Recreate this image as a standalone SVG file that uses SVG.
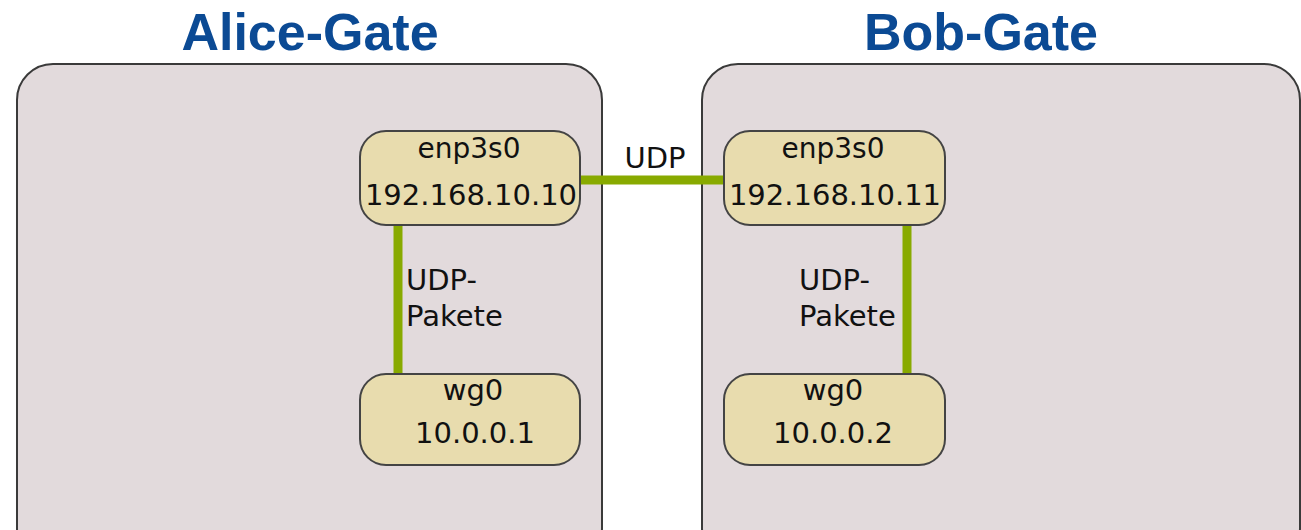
<svg xmlns="http://www.w3.org/2000/svg" width="1301" height="530" viewBox="0 0 1301 530">
<style>
.host{fill:#e2dadc;stroke:#3a3a3a;stroke-width:2}
.title{font-family:"Liberation Sans",Arial,sans-serif;font-weight:bold;font-size:52px;fill:#0b4a94;text-anchor:middle}
.node{fill:#e8dcae;stroke:#444;stroke-width:2}
.t{font-family:"DejaVu Sans",sans-serif;font-size:29px;fill:#111}
.s{font-size:28px}
.c{text-anchor:middle}
.wire{stroke:#88aa00;stroke-width:9;fill:none}
</style>
<rect width="1301" height="530" fill="#fff"/>
<g id="alice-gate">
<rect class="host" x="17" y="64" width="585" height="500" rx="36"/>
<text class="title" x="310" y="50">Alice-Gate</text>
</g>
<g id="bob-gate">
<rect class="host" x="702" y="64" width="598" height="500" rx="36"/>
<text class="title" x="981" y="50">Bob-Gate</text>
</g>
<g id="connectors">
<line class="wire" x1="580" y1="180" x2="724" y2="180"/>
<line class="wire" x1="398" y1="225" x2="398" y2="374"/>
<line class="wire" x1="907" y1="225" x2="907" y2="374"/>
<text class="t c" x="655" y="168">UDP</text>
<text class="t" x="406" y="290">UDP-</text>
<text class="t" x="406" y="326">Pakete</text>
<text class="t" x="799" y="290">UDP-</text>
<text class="t" x="799" y="326">Pakete</text>
</g>
<g id="alice-enp3s0">
<rect class="node" x="360" y="131" width="220" height="94" rx="26"/>
<text class="t s c" x="469" y="158">enp3s0</text>
<text class="t c" x="471" y="205">192.168.10.10</text>
</g>
<g id="bob-enp3s0">
<rect class="node" x="724" y="131" width="221" height="94" rx="26"/>
<text class="t s c" x="833" y="158">enp3s0</text>
<text class="t c" x="835" y="205">192.168.10.11</text>
</g>
<g id="alice-wg0">
<rect class="node" x="360" y="374" width="220" height="91" rx="26"/>
<text class="t c" x="473" y="400">wg0</text>
<text class="t c" x="475" y="443">10.0.0.1</text>
</g>
<g id="bob-wg0">
<rect class="node" x="724" y="374" width="221" height="91" rx="26"/>
<text class="t c" x="833" y="400">wg0</text>
<text class="t c" x="833" y="443">10.0.0.2</text>
</g>
</svg>
